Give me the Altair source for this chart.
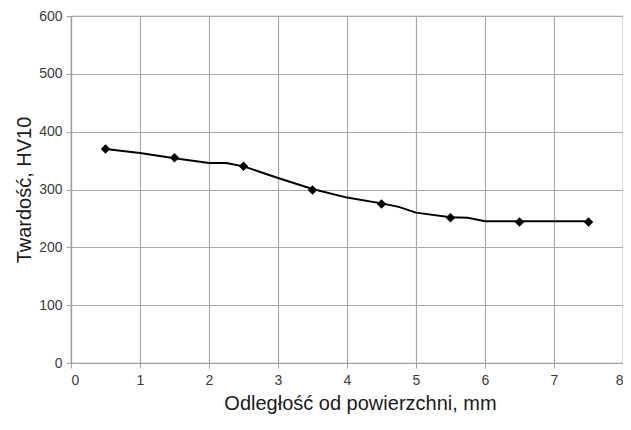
import altair as alt
import pandas as pd

# marker data
pt_x = [0.5, 1.5, 2.5, 3.5, 4.5, 5.5, 6.5, 7.5]
pt_y = [370, 355, 340, 299, 275, 251, 244, 244]

# smoothed line data
line_x = [0.5, 1.0, 1.5, 2.0, 2.25, 2.5, 3.0, 3.5, 4.0, 4.5, 4.75, 5.0, 5.5, 5.75, 6.0, 6.5, 7.0, 7.5]
line_y = [370, 363, 354, 346, 346, 340, 320, 301, 286, 276, 270, 260, 252, 251, 245, 245, 245, 245]

pts = pd.DataFrame({"x": pt_x, "y": pt_y})
ln = pd.DataFrame({"x": line_x, "y": line_y})

xs = alt.Scale(domain=[0, 8], nice=False)
ys = alt.Scale(domain=[0, 600], nice=False)

xax = alt.Axis(values=list(range(0, 9)), title="Odległość od powierzchni, mm",
               grid=True, format="d", titleX=289, titleAlign="center")
yax = alt.Axis(values=list(range(0, 601, 100)), title="Twardość, HV10",
               grid=True, format="d")

line = alt.Chart(ln).mark_line(color="black", strokeWidth=2).encode(
    x=alt.X("x:Q", scale=xs, axis=xax),
    y=alt.Y("y:Q", scale=ys, axis=yax),
)
marks = alt.Chart(pts).mark_point(shape="diamond", filled=True, color="black",
                                  size=90, opacity=1).encode(
    x=alt.X("x:Q", scale=xs),
    y=alt.Y("y:Q", scale=ys),
)

chart = (line + marks).properties(
    width=552, height=347,
    autosize=alt.AutoSizeParams(type="none"),
    padding={"left": 63, "top": 8, "right": 0, "bottom": 58},
).configure_view(
    stroke="#a0a0a0", strokeWidth=1.2
).configure_axis(
    gridColor="#a8a8a8", gridWidth=1.2, gridOpacity=1,
    domainColor="#a0a0a0", domainWidth=1.2,
    tickColor="#a0a0a0", tickSize=5,
    labelFont="Liberation Sans", labelFontSize=14, labelColor="#3a3a3a",
    titleFont="Liberation Sans", titleFontSize=20, titleFontWeight="normal",
    titleColor="#1a1a1a",
).configure_axisX(
    labelPadding=5, titlePadding=6,
).configure_axisY(
    labelPadding=4, titlePadding=4,
)

chart.save("out.html", embed_options={"renderer": "svg", "actions": False})
